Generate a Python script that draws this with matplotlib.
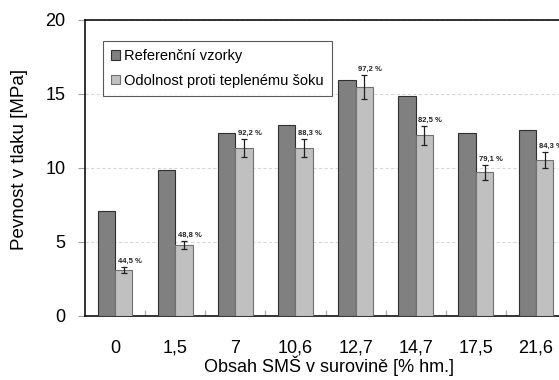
import matplotlib
matplotlib.use("Agg")
import matplotlib.pyplot as plt
import numpy as np

plt.rcParams['font.family'] = ['Liberation Sans', 'DejaVu Sans']

categories = ["0", "1,5", "7", "10,6", "12,7", "14,7", "17,5", "21,6"]
reference = [7.1, 9.85, 12.35, 12.9, 15.95, 14.85, 12.35, 12.55]
thermal = [3.1, 4.8, 11.35, 11.35, 15.45, 12.2, 9.7, 10.55]
thermal_err = [0.18, 0.26, 0.59, 0.59, 0.81, 0.64, 0.51, 0.54]
pct_labels = ["44,5 %", "48,8 %", "92,2 %", "88,3 %", "97,2 %", "82,5 %", "79,1 %", "84,3 %"]

W, H = 559, 380
fig = plt.figure(figsize=(W / 100, H / 100), dpi=100)
left, right, top, bottom = 85, 566, 20, 316
ax = fig.add_axes([left / W, 1 - bottom / H, (right - left) / W, (bottom - top) / H])

x = np.arange(len(categories))
bw = 0.29
ax.bar(x - bw / 2, reference, bw, color='#808080', edgecolor='#303030', linewidth=0.8,
       label='Referenční vzorky', zorder=3)
ax.bar(x + bw / 2, thermal, bw, color='#c0c0c0', edgecolor='#707070', linewidth=0.8,
       label='Odolnost proti teplenému šoku', zorder=3)
ax.errorbar(x + bw / 2, thermal, yerr=thermal_err, fmt='none', ecolor='#202020',
            elinewidth=0.9, capsize=2.2, capthick=0.9, zorder=4)
for xi, v, e, t in zip(x, thermal, thermal_err, pct_labels):
    ax.text(xi + bw / 2 + 0.1, v + e + 0.15, t, ha='center', va='bottom',
            fontsize=5.5, fontweight='bold', color='#202020', zorder=5)

ax.set_xlim(-0.5, len(categories) - 0.5)
ax.set_ylim(0, 20)
ax.set_yticks([0, 5, 10, 15, 20])
ax.set_xticks(x)
ax.set_xticklabels(categories)
ax.set_xticks(np.arange(len(categories) - 1) + 0.5, minor=True)
ax.tick_params(axis='x', which='major', length=0, pad=17, labelsize=13)
ax.tick_params(axis='x', which='minor', direction='in', length=4, color='#b0b0b0', width=1)
ax.tick_params(axis='y', direction='out', length=5, width=0.8, color='#a0a0a0', labelsize=13, pad=9)

ax.yaxis.grid(True, color='#d8d8d8', linestyle=(0, (3, 2)), linewidth=0.8, zorder=0)
ax.set_axisbelow(True)
for s in ax.spines.values():
    s.set_color('#101010')
    s.set_linewidth(1.2)

ax.set_ylabel('Pevnost v tlaku [MPa]', fontsize=13.5)
ax.yaxis.set_label_coords((28 - left) / (right - left), (bottom - 159) / (bottom - top))
ax.set_xlabel('Obsah SMŠ v surovině [% hm.]', fontsize=13)
ax.xaxis.set_label_coords((329 - left) / (right - left), (bottom - 356) / (bottom - top))

leg = ax.legend(loc='upper left', bbox_to_anchor=((103 - left) / (right - left), (bottom - 41) / (bottom - top)),
                fontsize=10.5, frameon=True, fancybox=False, edgecolor='#303030',
                handlelength=0.6, handleheight=0.6, handletextpad=0.3, borderpad=0.55,
                labelspacing=0.75, borderaxespad=0)
leg.get_frame().set_linewidth(0.8)

fig.savefig('out.png', dpi=100)
